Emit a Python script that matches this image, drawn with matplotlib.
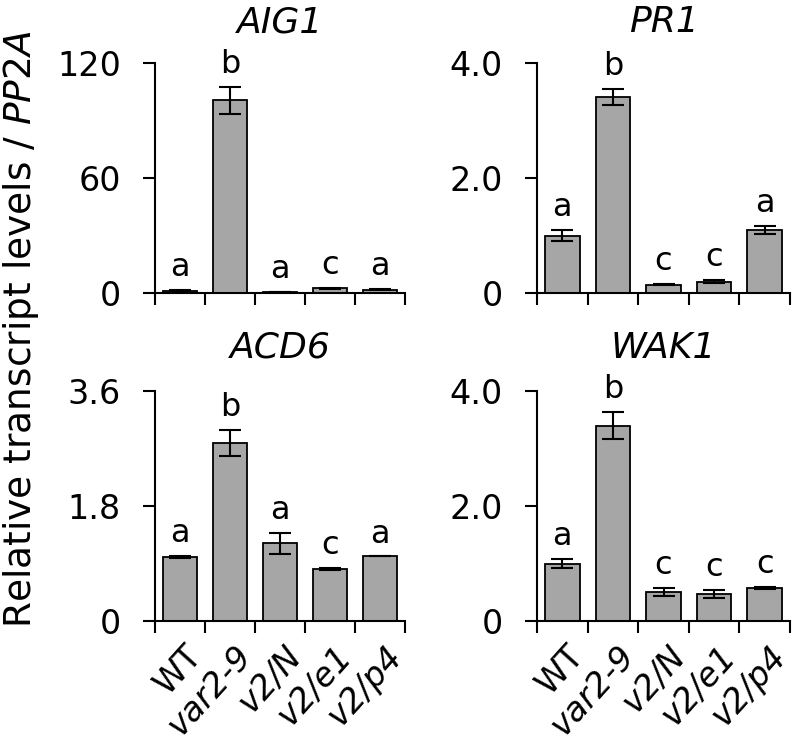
import matplotlib
matplotlib.use("Agg")
import matplotlib.pyplot as plt
import numpy as np

plt.rcParams['font.family'] = ['DejaVu Sans']

genotypes = ["WT", "var2-9", "v2/N", "v2/e1", "v2/p4"]
genes = ["AIG1", "PR1", "ACD6", "WAK1"]

aig1_mean = [1.2, 100.5, 0.5, 2.4, 1.7]
aig1_err = [0.3, 7.0, 0.2, 0.3, 0.3]
aig1_letters = ["a", "b", "a", "c", "a"]

pr1_mean = [1.0, 3.41, 0.145, 0.2, 1.095]
pr1_err = [0.1, 0.135, 0.01, 0.03, 0.065]
pr1_letters = ["a", "b", "c", "c", "a"]

acd6_mean = [1.0, 2.79, 1.22, 0.81, 1.01]
acd6_err = [0.015, 0.205, 0.165, 0.015, 0.0]
acd6_letters = ["a", "b", "a", "c", "a"]

wak1_mean = [1.0, 3.4, 0.505, 0.47, 0.57]
wak1_err = [0.085, 0.23, 0.075, 0.07, 0.015]
wak1_letters = ["a", "b", "c", "c", "c"]

yticks_aig1 = [0, 60, 120]
yticks_pr1 = [0, 2.0, 4.0]
yticks_acd6 = [0, 1.8, 3.6]
yticks_wak1 = [0, 2.0, 4.0]
ytick_labels_aig1 = ["0", "60", "120"]
ytick_labels_pr1 = ["0", "2.0", "4.0"]
ytick_labels_acd6 = ["0", "1.8", "3.6"]
ytick_labels_wak1 = ["0", "2.0", "4.0"]

W, H = 792, 743
fig = plt.figure(figsize=(W / 100, H / 100), dpi=100)

def add_ax(x0, x1, ytop, ybot):
    return fig.add_axes([x0 / W, 1 - ybot / H, (x1 - x0) / W, (ybot - ytop) / H])

panels = [
    (add_ax(155, 405, 63, 293), "AIG1", aig1_mean, aig1_err, aig1_letters, yticks_aig1, ytick_labels_aig1, False),
    (add_ax(537, 790, 63, 293), "PR1", pr1_mean, pr1_err, pr1_letters, yticks_pr1, ytick_labels_pr1, False),
    (add_ax(155, 405, 391, 621), "ACD6", acd6_mean, acd6_err, acd6_letters, yticks_acd6, ytick_labels_acd6, True),
    (add_ax(537, 790, 391, 621), "WAK1", wak1_mean, wak1_err, wak1_letters, yticks_wak1, ytick_labels_wak1, True),
]

tick_fs = 24
for i, (ax, title, mean, err, letters, yt, ytl, show_x) in enumerate(panels):
    x = np.arange(1, len(mean) + 1)
    ax.bar(x, mean, width=0.68, color="#a6a6a6", edgecolor="black", linewidth=1.3, zorder=2)
    ax.errorbar(x, mean, yerr=err, fmt="none", ecolor="black", elinewidth=1.5,
                capsize=8, capthick=1.5, zorder=3)
    for xi, m, e, l in zip(x, mean, err, letters):
        ax.annotate(l, (xi, m + e), xytext=(0, 10), textcoords="offset points",
                    ha="center", va="baseline", fontsize=23)
    ax.set_xlim(0.5, len(mean) + 0.5)
    ax.set_ylim(0, yt[-1])
    ax.set_yticks(yt)
    ax.set_yticklabels(ytl, fontsize=tick_fs)
    ax.set_xticks(np.arange(0.5, len(mean) + 1, 1.0))
    ax.set_xticklabels([])
    ax.tick_params(axis="x", direction="out", length=8.5, width=1.5)
    ax.tick_params(axis="y", direction="out", length=8.5, width=1.5, pad=16)
    for s in ["top", "right"]:
        ax.spines[s].set_visible(False)
    for s in ["left", "bottom"]:
        ax.spines[s].set_linewidth(1.5)
    ax.set_title(title, fontsize=26, style="italic", pad=22 if i < 2 else 24)
    ax.patch.set_alpha(0)
    if show_x:
        for xi, g in zip(x, genotypes):
            ax.text(xi + 0.08, -0.08, g, transform=ax.get_xaxis_transform(),
                    rotation=48, ha="right", va="top", rotation_mode="anchor",
                    fontsize=24, style="normal" if g == "WT" else "italic")

fig.text(0.027, 0.557, "Relative transcript levels / $\\mathit{PP2A}$", rotation=90,
         ha="center", va="center", fontsize=27)

fig.savefig("out.png", dpi=100)
